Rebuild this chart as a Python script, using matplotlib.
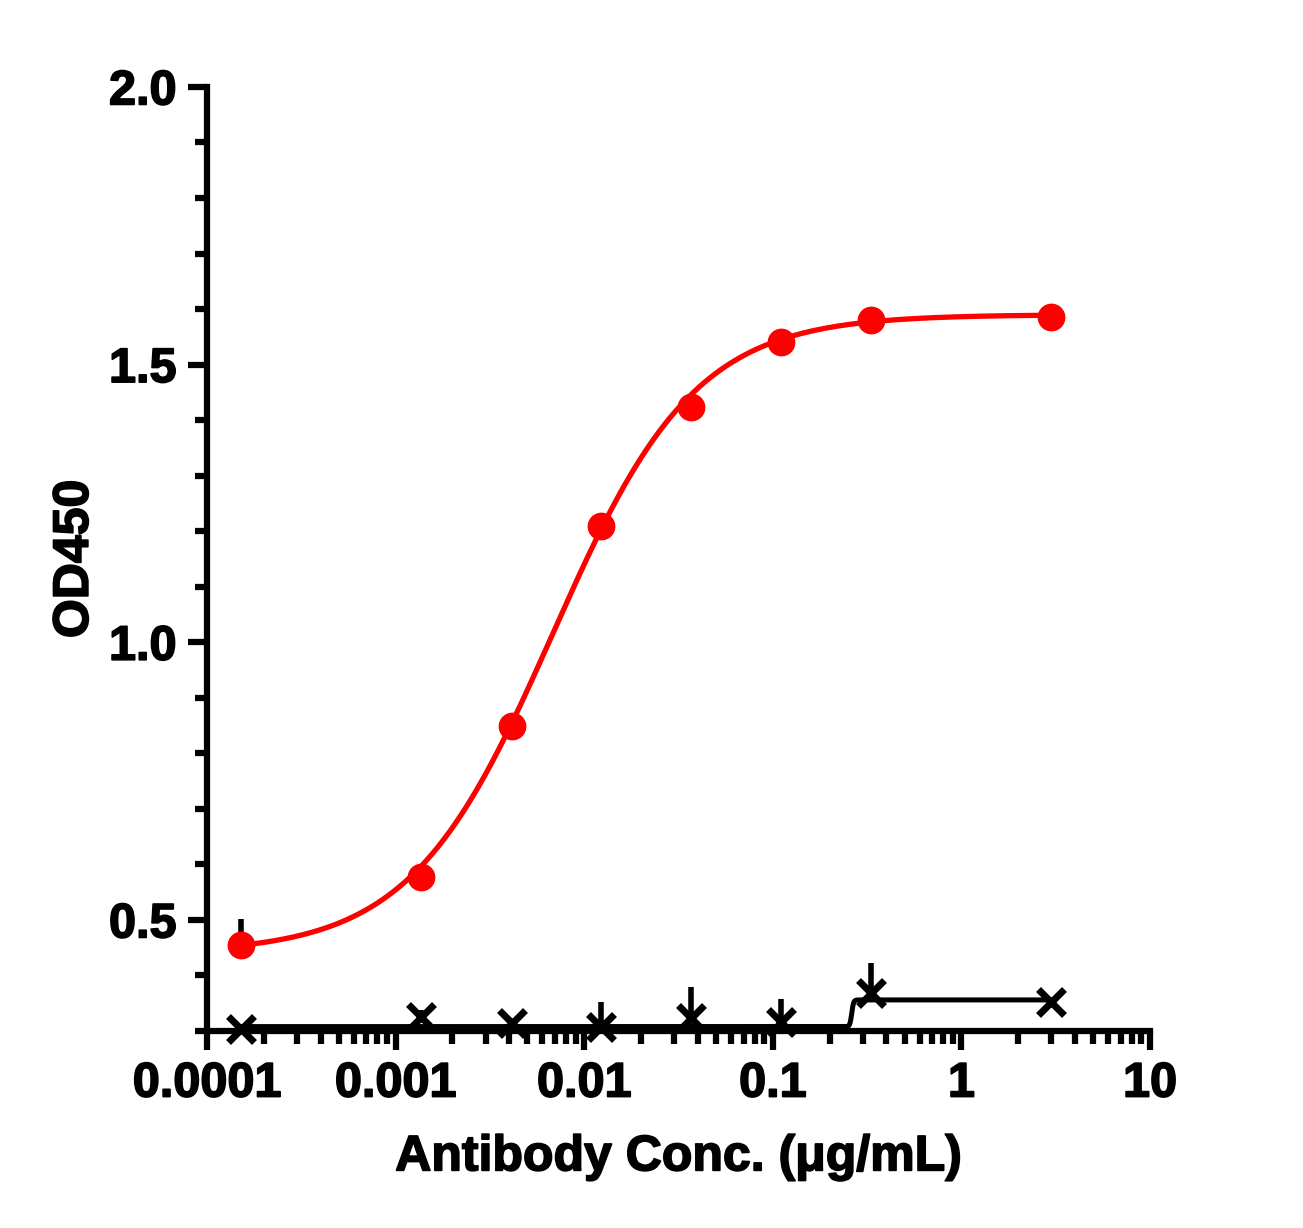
import numpy as np
import matplotlib
matplotlib.use("Agg")
import matplotlib.pyplot as plt
import matplotlib.patheffects as pe
from matplotlib.ticker import MultipleLocator, LogLocator, FixedLocator, NullFormatter

plt.rcParams['font.family'] = ['Liberation Sans', 'DejaVu Sans']
plt.rcParams['font.weight'] = 'bold'

# antibody concentrations (ug/mL)
conc = [0.000152, 0.00137, 0.00412, 0.0123, 0.037, 0.111, 0.333, 3.0]

# OD450 readings
od_sample = [0.455, 0.577, 0.849, 1.209, 1.423, 1.541, 1.581, 1.586]
err_sample = [0.047, 0.0, 0.0, 0.0, 0.0, 0.0, 0.0, 0.0]

od_control = [0.304, 0.325, 0.315, 0.308, 0.324, 0.317, 0.368, 0.352]
err_control = [0.0, 0.012, 0.0, 0.044, 0.056, 0.04, 0.055, 0.0]

# 4PL fit parameters: bottom, top, EC50, hill
fit_sample = (0.44, 1.59, 0.0068, 1.15)
fit_control = (0.308, 0.356, 0.262, 90.0)

x_ticks = [0.0001, 0.001, 0.01, 0.1, 1, 10]
x_tick_labels = ["0.0001", "0.001", "0.01", "0.1", "1", "10"]
y_ticks = [0.5, 1.0, 1.5, 2.0]


def four_pl(x, bottom, top, ec50, hill):
    return bottom + (top - bottom) / (1 + (ec50 / x) ** hill)


fig = plt.figure(figsize=(13.03, 12.28), dpi=100)
ax = fig.add_axes([0.1589, 0.1604, 0.7237, 0.7688])

xs = np.logspace(np.log10(conc[0]), np.log10(conc[-1]), 2000)

ax.plot(xs, four_pl(xs, *fit_control), color="black", linewidth=3.6, zorder=3, clip_on=False)
ax.errorbar(conc, od_control, yerr=[np.zeros(len(err_control)), err_control],
            fmt="none", ecolor="black", elinewidth=4, capsize=0, zorder=4, clip_on=False)
ax.plot(conc, od_control, linestyle="none", marker="x", markersize=19,
        markeredgewidth=5, color="black", zorder=5, clip_on=False)

ax.plot(xs, four_pl(xs, *fit_sample), color="#ff0000", linewidth=3.8, zorder=3)
ax.errorbar(conc, od_sample, yerr=[np.zeros(len(err_sample)), err_sample],
            fmt="none", ecolor="black", elinewidth=4, capsize=0, zorder=4)
ax.plot(conc, od_sample, linestyle="none", marker="o", markersize=19,
        color="#ff0000", zorder=5)

ax.set_xscale("log")
ax.set_xlim(0.0001, 10)
ax.set_ylim(0.3, 2.0)

ax.xaxis.set_major_locator(FixedLocator(x_ticks))
ax.set_xticklabels(x_tick_labels)
ax.xaxis.set_minor_locator(LogLocator(base=10, subs=np.arange(2, 10)))
ax.xaxis.set_minor_formatter(NullFormatter())

ax.yaxis.set_major_locator(FixedLocator(y_ticks))
ax.set_yticklabels([f"{v:.1f}" for v in y_ticks])
ax.yaxis.set_minor_locator(MultipleLocator(0.1))

for side in ["top", "right"]:
    ax.spines[side].set_visible(False)
for side in ["left", "bottom"]:
    ax.spines[side].set_linewidth(4.5)

ax.tick_params(axis="both", which="major", direction="out", length=14, width=4.5,
               labelsize=35, pad=8)
ax.tick_params(axis="x", which="minor", direction="out", length=9, width=4.5)
ax.tick_params(axis="y", which="minor", direction="out", length=9, width=4.5)

ax.set_xlabel("Antibody Conc. (μg/mL)", fontsize=36, fontweight="bold", labelpad=20)
ax.set_ylabel("OD450", fontsize=36, fontweight="bold", labelpad=8)

heavy = [pe.withStroke(linewidth=1.2, foreground="black")]
for t in ax.get_xticklabels() + ax.get_yticklabels():
    t.set_path_effects(heavy)
ax.xaxis.label.set_path_effects(heavy)
ax.yaxis.label.set_path_effects(heavy)

fig.savefig("out.png", dpi=100)
